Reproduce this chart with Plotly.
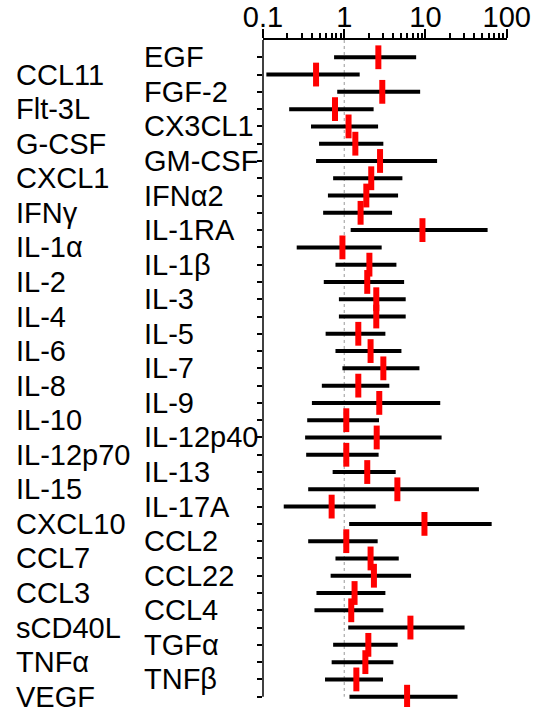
import plotly.graph_objects as go

# ---- data ----
analytes = ["EGF", "CCL11", "FGF-2", "Flt-3L", "CX3CL1", "G-CSF", "GM-CSF", "CXCL1",
            "IFNα2", "IFNγ", "IL-1RA", "IL-1α", "IL-1β", "IL-2", "IL-3", "IL-4",
            "IL-5", "IL-6", "IL-7", "IL-8", "IL-9", "IL-10", "IL-12p40", "IL-12p70",
            "IL-13", "IL-15", "IL-17A", "CXCL10", "CCL2", "CCL7", "CCL22", "CCL3",
            "CCL4", "sCD40L", "TGFα", "TNFα", "TNFβ", "VEGF"]
estimate = [2.63, 0.45, 2.94, 0.77, 1.13, 1.37, 2.76, 2.15,
            1.87, 1.59, 9.18, 0.95, 2.04, 1.92, 2.48, 2.48,
            1.49, 2.11, 3.03, 1.49, 2.70, 1.06, 2.51, 1.06,
            1.92, 4.51, 0.70, 9.72, 1.06, 2.11, 2.32, 1.34,
            1.22, 6.53, 1.98, 1.82, 1.41, 5.94]
lower = [0.75, 0.11, 0.82, 0.21, 0.39, 0.49, 0.45, 0.73,
         0.63, 0.55, 1.20, 0.26, 0.78, 0.56, 0.86, 0.86,
         0.59, 0.78, 0.95, 0.53, 0.40, 0.35, 0.33, 0.34,
         0.72, 0.36, 0.18, 1.15, 0.36, 0.78, 0.68, 0.455,
         0.43, 1.12, 0.73, 0.70, 0.58, 1.16]
upper = [7.68, 1.55, 8.60, 2.30, 2.61, 3.03, 13.9, 5.20,
         4.60, 3.88, 58.2, 2.89, 4.39, 5.46, 5.71, 5.71,
         3.21, 5.06, 8.43, 3.59, 15.2, 2.68, 15.8, 2.65,
         4.30, 45.5, 2.44, 65.3, 2.58, 4.69, 6.65, 3.21,
         3.03, 30.3, 4.55, 4.03, 3.00, 24.8]
x_tickvals = [0.1, 1, 10, 100]
x_ticktext = ["0.1", "1", "10", "100"]

rows = list(range(1, len(analytes) + 1))
n = len(rows)
FONT = "Liberation Sans, Arial, sans-serif"
W, H = 538, 707
ROW_PX = (696.7 - 40) / n
x0_px = 263

# CI segments
seg_x, seg_y = [], []
for r, lo, hi in zip(rows, lower, upper):
    seg_x += [lo, hi, None]
    seg_y += [r, r, None]

fig = go.Figure()
fig.add_trace(go.Scatter(x=seg_x, y=seg_y, mode="lines",
                         line=dict(color="black", width=4),
                         hoverinfo="skip", showlegend=False, cliponaxis=False))
fig.add_trace(go.Scatter(x=estimate, y=rows, mode="markers",
                         marker=dict(symbol="line-ns", size=17,
                                     line=dict(width=6, color="#ff0000")),
                         text=analytes, showlegend=False, cliponaxis=False))

# reference line at 1
fig.add_shape(type="line", xref="x", yref="y", x0=1, x1=1, y0=0, y1=n,
              line=dict(color="#999999", width=1, dash="dot"), layer="below")
# left axis line (ends at the last row)
fig.add_shape(type="line", xref="paper", yref="y", x0=x0_px / W, x1=x0_px / W,
              y0=0, y1=n, line=dict(color="black", width=1.5), layer="above")

# two columns of labels
anns = []
for r, name in zip(rows, analytes):
    xpos = 14 / W if r % 2 == 0 else 142 / W
    anns.append(dict(x=xpos, xref="paper", y=r, yref="y", text=name,
                     showarrow=False, xanchor="left", yanchor="middle",
                     font=dict(family=FONT, size=29, color="black")))

minor_vals = [m * d for d in (0.1, 1, 10) for m in range(2, 10)]

fig.update_layout(
    width=W, height=H,
    margin=dict(l=0, r=0, t=0, b=0, autoexpand=False),
    paper_bgcolor="white", plot_bgcolor="white",
    font=dict(family=FONT, size=29, color="black"),
    annotations=anns,
    xaxis=dict(type="log", range=[-1, 2], domain=[x0_px / W, 506.7 / W],
               side="top", showline=True, linecolor="black", linewidth=1.5,
               ticks="outside", ticklen=9, tickwidth=1.5, tickcolor="black",
               tickvals=x_tickvals, ticktext=x_ticktext,
               tickfont=dict(family=FONT, size=29, color="black"),
               ticklabelstandoff=-9,
               showgrid=False, zeroline=False,
               minor=dict(ticks="outside", ticklen=5, tickwidth=1.5,
                          tickcolor="black", tickvals=minor_vals, showgrid=False)),
    yaxis=dict(range=[n + 0.55, 0],
               domain=[1 - (696.7 + 0.55 * ROW_PX) / H, 1 - 40 / H],
               showline=False,
               ticks="outside", ticklen=5, tickwidth=1.5, tickcolor="black",
               tickvals=rows, showticklabels=False,
               showgrid=False, zeroline=False),
)

fig.write_html("out.html",
               config={"displayModeBar": False},
               post_script="document.body.style.margin='0';"
                           "document.body.style.overflow='hidden';")
